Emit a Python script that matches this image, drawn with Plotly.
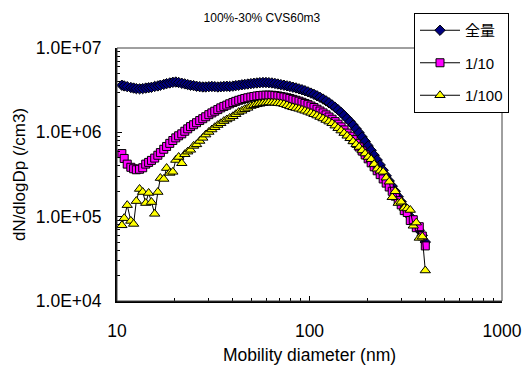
import plotly.graph_objects as go

# SMPS channel midpoints (nm)
diameter_nm = [
    10.6, 10.9, 11.3, 11.8, 12.2, 12.6, 13.1, 13.6, 14.1, 14.6,
    15.1, 15.7, 16.3, 16.8, 17.5, 18.1, 18.8, 19.5, 20.2, 20.9,
    21.7, 22.5, 23.3, 24.1, 25.0, 25.9, 26.9, 27.9, 28.9, 30.0,
    31.1, 32.2, 33.4, 34.6, 35.9, 37.2, 38.5, 40.0, 41.4, 42.9,
    44.5, 46.1, 47.8, 49.6, 51.4, 53.3, 55.2, 57.3, 59.4, 61.5,
    63.8, 66.1, 68.5, 71.0, 73.7, 76.4, 79.1, 82.0, 85.1, 88.2,
    91.4, 94.7, 98.2, 101.8, 105.5, 109.4, 113.4, 117.6, 121.9, 126.3,
    131.0, 135.8, 140.7, 145.9, 151.2, 156.8, 162.5, 168.5, 174.7, 181.1,
    187.7, 194.6, 201.7, 209.1, 216.7, 224.7, 232.9, 241.4, 250.3, 259.5,
    269.0, 278.8, 289.0, 299.6, 310.6, 322.0, 333.8, 346.0, 358.7, 371.8,
    385.4, 399.5,
]

# dN/dlogDp (/cm3), undiluted
full_flow = [
    3.62e6, 3.55e6, 3.48e6, 3.40e6, 3.35e6, 3.30e6, 3.28e6, 3.30e6, 3.35e6, 3.38e6,
    3.42e6, 3.50e6, 3.55e6, 3.62e6, 3.70e6, 3.78e6, 3.85e6, 3.92e6, 3.95e6, 3.90e6,
    3.82e6, 3.75e6, 3.68e6, 3.62e6, 3.58e6, 3.52e6, 3.48e6, 3.45e6, 3.45e6, 3.48e6,
    3.50e6, 3.48e6, 3.45e6, 3.47e6, 3.50e6, 3.52e6, 3.50e6, 3.53e6, 3.58e6, 3.62e6,
    3.66e6, 3.70e6, 3.74e6, 3.78e6, 3.82e6, 3.85e6, 3.88e6, 3.90e6, 3.90e6, 3.88e6,
    3.85e6, 3.80e6, 3.74e6, 3.68e6, 3.62e6, 3.56e6, 3.50e6, 3.43e6, 3.36e6, 3.28e6,
    3.20e6, 3.11e6, 3.02e6, 2.92e6, 2.82e6, 2.71e6, 2.60e6, 2.48e6, 2.36e6, 2.24e6,
    2.11e6, 1.98e6, 1.85e6, 1.72e6, 1.59e6, 1.46e6, 1.34e6, 1.22e6, 1.10e6, 9.90e5,
    8.80e5, 7.80e5, 6.90e5, 6.10e5, 5.35e5, 4.70e5, 4.10e5, 3.55e5, 3.05e5, 2.65e5,
    2.30e5, 2.00e5, 1.72e5, 1.50e5, 1.30e5, 1.14e5, 1.00e5, 8.80e4, 7.80e4, 6.90e4,
    6.00e4, 5.00e4,
]

# dN/dlogDp (/cm3), 1/10 dilution
dilution_10 = [
    5.60e5, 4.90e5, 4.20e5, 3.85e5, 3.70e5, 3.60e5, 3.65e5, 3.80e5, 4.20e5, 4.40e5,
    4.65e5, 4.95e5, 5.35e5, 5.75e5, 6.30e5, 6.80e5, 7.40e5, 8.00e5, 8.60e5, 9.10e5,
    9.60e5, 1.03e6, 1.10e6, 1.17e6, 1.23e6, 1.30e6, 1.38e6, 1.45e6, 1.53e6, 1.62e6,
    1.70e6, 1.78e6, 1.86e6, 1.95e6, 2.03e6, 2.10e6, 2.18e6, 2.26e6, 2.33e6, 2.40e6,
    2.46e6, 2.52e6, 2.57e6, 2.62e6, 2.66e6, 2.70e6, 2.73e6, 2.75e6, 2.76e6, 2.76e6,
    2.75e6, 2.73e6, 2.70e6, 2.66e6, 2.62e6, 2.57e6, 2.52e6, 2.46e6, 2.40e6, 2.34e6,
    2.27e6, 2.20e6, 2.13e6, 2.05e6, 1.97e6, 1.88e6, 1.79e6, 1.70e6, 1.61e6, 1.52e6,
    1.43e6, 1.34e6, 1.25e6, 1.16e6, 1.07e6, 9.80e5, 9.00e5, 8.20e5, 7.40e5, 6.70e5,
    6.00e5, 5.40e5, 4.85e5, 4.35e5, 3.90e5, 3.50e5, 3.15e5, 2.80e5, 2.50e5, 2.25e5,
    2.00e5, 1.75e5, 1.55e5, 1.38e5, 1.18e5, 1.12e5, 9.00e4, 9.20e4, 7.40e4, 7.60e4,
    5.90e4, 4.50e4,
]

# dN/dlogDp (/cm3), 1/100 dilution
dilution_100 = [
    7.90e4, 9.60e4, 1.37e5, 8.90e4, 8.20e4, 1.53e5, 2.13e5, 1.96e5, 1.45e5, 1.91e5,
    1.49e5, 1.08e5, 1.96e5, 2.87e5, 2.80e5, 3.77e5, 3.30e5, 3.40e5, 4.70e5, 5.10e5,
    4.30e5, 5.50e5, 5.90e5, 6.20e5, 6.90e5, 7.20e5, 7.90e5, 8.60e5, 9.40e5, 1.01e6,
    1.08e6, 1.15e6, 1.22e6, 1.28e6, 1.36e6, 1.42e6, 1.48e6, 1.55e6, 1.64e6, 1.74e6,
    1.80e6, 1.88e6, 1.95e6, 2.05e6, 2.10e6, 2.15e6, 2.18e6, 2.22e6, 2.24e6, 2.26e6,
    2.25e6, 2.24e6, 2.22e6, 2.20e6, 2.16e6, 2.10e6, 2.03e6, 1.98e6, 1.94e6, 1.90e6,
    1.85e6, 1.80e6, 1.75e6, 1.70e6, 1.64e6, 1.58e6, 1.52e6, 1.46e6, 1.40e6, 1.34e6,
    1.28e6, 1.20e6, 1.12e6, 1.05e6, 9.80e5, 9.10e5, 8.50e5, 7.80e5, 7.20e5, 6.70e5,
    6.10e5, 5.60e5, 5.10e5, 4.80e5, 4.20e5, 3.70e5, 3.50e5, 3.40e5, 2.90e5, 2.60e5,
    1.70e5, 2.00e5, 1.45e5, 1.50e5, 1.27e5, 1.25e5, 1.20e5, 7.80e4, 8.50e4, 5.60e4,
    5.80e4, 2.30e4,
]

series_names = ["全量", "1/10", "1/100"]

y_tick_vals = [1e4, 1e5, 1e6, 1e7]
y_tick_text = ["1.0E+04", "1.0E+05", "1.0E+06", "1.0E+07"]
x_tick_vals = [10, 100, 1000]
x_tick_text = ["10", "100", "1000"]

FONT = "Liberation Sans, Arial, Noto Sans CJK JP, sans-serif"

styles = [
    dict(symbol="diamond", color="#000080", size=8),
    dict(symbol="square", color="#FF00FF", size=8),
    dict(symbol="triangle-up", color="#FFFF00", size=9),
]

fig = go.Figure()
for name, values, st in zip(series_names, [full_flow, dilution_10, dilution_100], styles):
    fig.add_trace(go.Scatter(
        x=diameter_nm, y=values, name=name, mode="lines+markers",
        legendgroup=name,
        line=dict(color="black", width=1),
        marker=dict(symbol=st["symbol"], size=st["size"], color=st["color"],
                    line=dict(color="black", width=1)),
    ))

# minor ticks at 2..9 within each decade
x_minor = [m * 10 ** e for e in (1, 2) for m in range(2, 10)]
y_minor = [m * 10 ** e for e in (4, 5, 6) for m in range(2, 10)]

fig.update_layout(
    width=527, height=365,
    margin=dict(l=117, r=25, t=48, b=64, autoexpand=False),
    paper_bgcolor="white", plot_bgcolor="white",
    font=dict(family=FONT, color="black", size=17),
    title=dict(text="100%-30% CVS60m3", x=0.497, xref="container", xanchor="center",
               y=1 - 18 / 365, yref="container", yanchor="middle",
               font=dict(size=12, family=FONT)),
    showlegend=True,
    legend=dict(x=(414 - 117) / 385, y=(301 - 13) / 253, xanchor="left", yanchor="top",
                bgcolor="white", bordercolor="black", borderwidth=1,
                font=dict(size=15, family=FONT), tracegroupgap=10,
                traceorder="grouped", itemwidth=40),
    shapes=[dict(type="rect", xref="paper", yref="paper", x0=0, x1=1, y0=0, y1=1,
                 line=dict(color="#404040", width=1), layer="above")],
)

fig.update_xaxes(
    type="log", range=[1, 3], automargin=False,
    tickmode="array", tickvals=x_tick_vals, ticktext=x_tick_text,
    ticks="inside", ticklen=5, tickcolor="black", tickwidth=1,
    minor=dict(tickmode="array", tickvals=x_minor, ticks="inside", ticklen=3,
               tickcolor="black", showgrid=False),
    showgrid=False, zeroline=False,
    showline=True, linecolor="black", linewidth=2,
    ticklabelstandoff=13,
    title=dict(text="Mobility diameter (nm)", standoff=13, font=dict(size=17.5)),
    tickfont=dict(size=17.5),
)
fig.update_yaxes(
    type="log", range=[4, 7], automargin=False,
    tickmode="array", tickvals=y_tick_vals, ticktext=y_tick_text,
    ticks="inside", ticklen=5, tickcolor="black", tickwidth=1,
    minor=dict(tickmode="array", tickvals=y_minor, ticks="inside", ticklen=3,
               tickcolor="black", showgrid=False),
    showgrid=False, zeroline=False,
    showline=True, linecolor="black", linewidth=2,
    ticklabelstandoff=10,
    title=dict(text="dN/dlogDp (/cm3)", standoff=6, font=dict(size=17)),
    tickfont=dict(size=17.5),
)

fig.write_html("out.html")
